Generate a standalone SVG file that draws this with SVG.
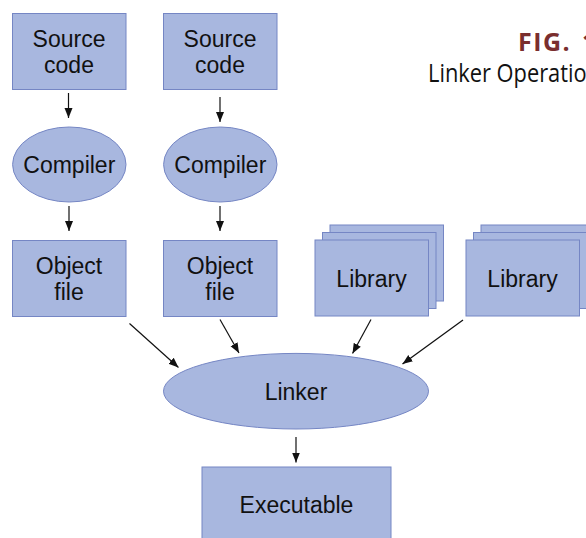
<svg xmlns="http://www.w3.org/2000/svg" width="586" height="538" viewBox="0 0 586 538">
<style>
.n{fill:#a8b7df;stroke:#7586c4;stroke-width:1}
.t{font-family:"Liberation Sans",Arial,sans-serif;font-size:23px;fill:#111;text-anchor:middle}
.c{stroke:#111;stroke-width:1.2;fill:none;marker-end:url(#ah)}
.fig{font-family:"Open Sans","Noto Sans",sans-serif;font-weight:bold;font-size:25px;fill:#7a2e2e;letter-spacing:1.5px}
.cap{font-family:"Open Sans","Noto Sans",sans-serif;font-size:25px;fill:#111}
</style>
<defs>
<marker id="ah" viewBox="0 0 10 10" refX="10" refY="5" markerWidth="10" markerHeight="10" markerUnits="userSpaceOnUse" orient="auto">
<path d="M0,1 L10,5 L0,9 Z" fill="#111"/>
</marker>
</defs>
<rect width="586" height="538" fill="#fff"/>
<g id="title">
<text class="fig" x="518" y="51">FIG.<tspan x="582">1</tspan></text>
<text class="cap" x="428" y="81.5" textLength="172" lengthAdjust="spacingAndGlyphs">Linker Operation</text>
</g>
<g id="src1"><rect class="n" x="12.5" y="13.5" width="113.5" height="76"/><text class="t" x="69" y="46.5">Source</text><text class="t" x="69" y="72.5">code</text></g>
<g id="src2"><rect class="n" x="163.5" y="13.5" width="113.5" height="76"/><text class="t" x="220" y="46.5">Source</text><text class="t" x="220" y="72.5">code</text></g>
<g id="comp1"><ellipse class="n" cx="69.3" cy="164.5" rx="56.7" ry="37.5"/><text class="t" x="69.3" y="173">Compiler</text></g>
<g id="comp2"><ellipse class="n" cx="220.3" cy="164.5" rx="56.7" ry="37.5"/><text class="t" x="220.3" y="173">Compiler</text></g>
<g id="obj1"><rect class="n" x="12.5" y="240.5" width="113.5" height="76"/><text class="t" x="69" y="273.5">Object</text><text class="t" x="69" y="299.5">file</text></g>
<g id="obj2"><rect class="n" x="163.5" y="240.5" width="113.5" height="76"/><text class="t" x="220" y="273.5">Object</text><text class="t" x="220" y="299.5">file</text></g>
<g id="lib1">
<rect class="n" x="330" y="225" width="113.5" height="76"/>
<rect class="n" x="322.5" y="232.5" width="113.5" height="76"/>
<rect class="n" x="315" y="240" width="113.5" height="76"/>
<text class="t" x="371.5" y="286.5">Library</text>
</g>
<g id="lib2">
<rect class="n" x="481" y="225" width="113.5" height="76"/>
<rect class="n" x="473.5" y="232.5" width="113.5" height="76"/>
<rect class="n" x="466" y="240" width="113.5" height="76"/>
<text class="t" x="522.5" y="286.5">Library</text>
</g>
<g id="linker"><ellipse class="n" cx="296" cy="391.2" rx="132.5" ry="37.8"/><text class="t" x="296" y="400">Linker</text></g>
<g id="exe"><rect class="n" x="202" y="467" width="189" height="80"/><text class="t" x="296.5" y="512.5">Executable</text></g>
<g id="connectors">
<line class="c" x1="68.5" y1="93" x2="68.5" y2="118"/>
<line class="c" x1="220" y1="97" x2="220" y2="122"/>
<line class="c" x1="69" y1="206" x2="69" y2="231"/>
<line class="c" x1="220" y1="206" x2="220" y2="231"/>
<line class="c" x1="129.5" y1="323.5" x2="178.5" y2="367.5"/>
<line class="c" x1="220" y1="319.5" x2="239" y2="353"/>
<line class="c" x1="371" y1="319.5" x2="352.5" y2="353.5"/>
<line class="c" x1="463" y1="320" x2="402.5" y2="364"/>
<line class="c" x1="296" y1="437" x2="296" y2="462.5"/>
</g>
</svg>
